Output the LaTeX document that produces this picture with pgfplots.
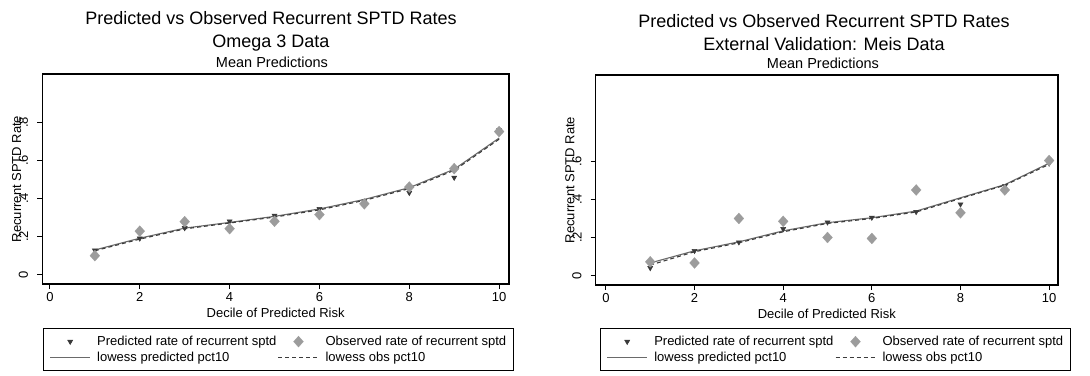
\documentclass[border=0pt]{standalone}
\usepackage{fontspec}
\setmainfont{Liberation Sans}
\usepackage{pgfplots}
\pgfplotsset{compat=1.18}
\definecolor{predc}{HTML}{3A3A3A}
\definecolor{obsc}{HTML}{9C9C9C}
\definecolor{linec}{HTML}{3C3C3C}
\definecolor{solidc}{HTML}{6A6A6A}
\pgfplotsset{
 myaxis/.style={
  scale only axis, anchor=south west,
  xmin=-0.17, xmax=10.22, ymin=-0.05, ymax=1.055,
  xtick={0,2,4,6,8,10},
  xtick pos=bottom, ytick pos=left, tick align=outside,
  major tick length=5pt,
  every tick/.style={black, line width=1pt},
  axis line style={line width=1.3pt},
  tick label style={font=\fontsize{13}{15}\selectfont},
  /pgf/number format/assume math mode=true,
  y tick label style={xshift=-9pt, rotate=90, anchor=south, inner sep=0pt},
  label style={font=\fontsize{13}{15}\selectfont},
  xlabel={Decile of Predicted Risk},
  ylabel={Recurrent SPTD Rate},
  xlabel style={at={(axis description cs:0.5,-0.138)}, anchor=center},
  ylabel style={at={(axis description cs:-0.055,0.5)}, anchor=center},
  legend columns=2,
  legend cell align=left,
  legend style={draw=black, line width=1.3pt, font=\fontsize{13}{15}\selectfont, anchor=north west,
    inner xsep=6pt, inner ysep=6pt, row sep=2pt,
    /tikz/every odd column/.append style={column sep=5pt},
    /tikz/every even column/.append style={column sep=0pt}, nodes={inner sep=1.5pt}},
  legend image code/.code={\draw[mark repeat=2, mark phase=2, #1] plot coordinates {(0pt,0pt) (20pt,0pt) (40pt,0pt)};},
  clip=false,
 },
 pred/.style={only marks, color=predc, mark=triangle*, mark size=2.9pt, mark options={rotate=180, fill=predc, draw=predc, line width=0.5pt}},
 obs/.style={only marks, color=obsc, mark=diamond*, mark size=5.5pt, mark options={fill=obsc, draw=obsc, line width=0.2pt, xscale=1.2}},
 lpred/.style={no marks, solidc, line width=1.1pt},
 lobs/.style={no marks, linec, line width=1.1pt, dash pattern=on 4pt off 3pt},
}
\begin{document}
\begin{tikzpicture}
\path[use as bounding box] (0pt,0pt) rectangle (1090pt,375pt);
% ---------------- Left panel ----------------
\begin{axis}[myaxis, at={(42.3pt,91pt)}, width=466.7pt, height=210pt,
  ytick={0,0.2,0.4,0.6,0.8}, yticklabels={0,.2,.4,.6,.8},
  legend style={at={(axis description cs:0.0015,-0.2095)}}]
\addplot[pred] coordinates {(1,0.127)(2,0.19)(3,0.245)(4,0.28)(5,0.31)(6,0.345)(7,0.385)(8,0.43)(9,0.51)(10,0.76)};
\addlegendentry{Predicted rate of recurrent sptd}
\addplot[obs] coordinates {(1,0.099)(2,0.228)(3,0.278)(4,0.241)(5,0.28)(6,0.315)(7,0.372)(8,0.46)(9,0.557)(10,0.752)};
\addlegendentry{Observed rate of recurrent sptd}
\addplot[lpred] coordinates {(1,0.129)(2,0.191)(3,0.244)(4,0.274)(5,0.306)(6,0.345)(7,0.395)(8,0.457)(9,0.554)(10,0.718)};
\addlegendentry{lowess predicted pct10}
\addplot[lobs] coordinates {(1,0.125)(2,0.186)(3,0.240)(4,0.271)(5,0.302)(6,0.340)(7,0.390)(8,0.452)(9,0.548)(10,0.712)};
\addlegendentry{lowess obs pct10}
\end{axis}
% ---------------- Right panel ----------------
\begin{axis}[myaxis, at={(595.7pt,90pt)}, width=462.3pt, height=210pt,
  xmin=-0.23, xmax=10.2,
  ytick={0,0.2,0.4,0.6}, yticklabels={0,.2,.4,.6},
  ylabel style={at={(axis description cs:-0.056,0.5)}},
  legend style={at={(axis description cs:0.0093,-0.205)}}]
\addplot[pred] coordinates {(1,0.04)(2,0.13)(3,0.175)(4,0.245)(5,0.28)(6,0.305)(7,0.335)(8,0.375)(9,0.47)(10,0.59)};
\addlegendentry{Predicted rate of recurrent sptd}
\addplot[obs] coordinates {(1,0.072)(2,0.066)(3,0.30)(4,0.285)(5,0.20)(6,0.195)(7,0.45)(8,0.33)(9,0.45)(10,0.605)};
\addlegendentry{Observed rate of recurrent sptd}
\addplot[lpred] coordinates {(1,0.066)(2,0.13)(3,0.177)(4,0.235)(5,0.278)(6,0.304)(7,0.339)(8,0.409)(9,0.478)(10,0.591)};
\addlegendentry{lowess predicted pct10}
\addplot[lobs] coordinates {(1,0.055)(2,0.125)(3,0.172)(4,0.23)(5,0.274)(6,0.30)(7,0.334)(8,0.405)(9,0.475)(10,0.585)};
\addlegendentry{lowess obs pct10}
\end{axis}
% ---------------- Titles ----------------
\node[font=\fontsize{18}{22.5}\selectfont, align=center] at (271pt,343.75pt) {Predicted vs Observed Recurrent SPTD Rates\\Omega 3 Data};
\node[font=\fontsize{14.5}{16}\selectfont] at (272pt,313pt) {Mean Predictions};
\node[font=\fontsize{18}{22.5}\selectfont, align=center] at (824pt,342.6pt) {Predicted vs Observed Recurrent SPTD Rates\\External Validation: Meis Data};
\node[font=\fontsize{14.5}{16}\selectfont] at (823pt,312pt) {Mean Predictions};
\end{tikzpicture}
\end{document}
